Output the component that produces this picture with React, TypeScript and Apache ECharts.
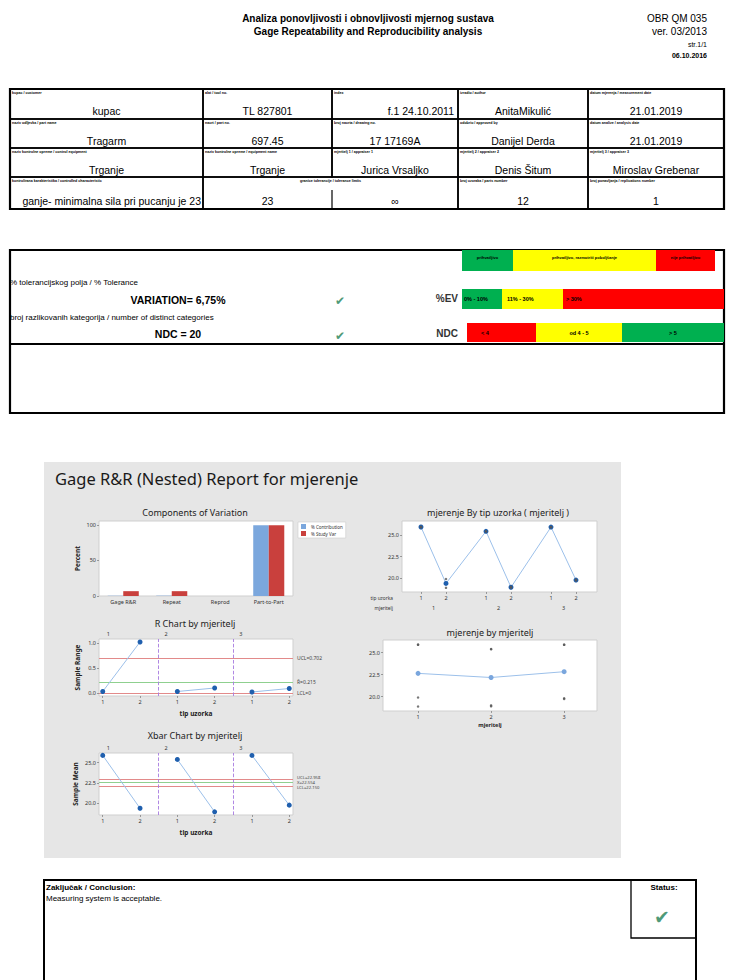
import React, { useEffect, useRef } from "react";
import * as echarts from "echarts";

// ---------------- data ----------------
const components = ["Gage R&R", "Repeat", "Reprod", "Part-to-Part"];
const pctContribution = [0.46, 0.46, 0.0, 99.54];
const pctStudyVar = [6.8, 6.8, 0.0, 99.77];
const legendNames = ["% Contribution", "% Study Var"];

const appraiserLabels = ["1", "2", "3"];
const sampleTypeLabels = ["1", "2"];
// measurements per appraiser: [sample type][part]
const appraiser1 = [[25.92, 25.89], [19.9, 18.88]];
const appraiser2 = [[25.42, 25.39], [19.0, 18.9]];
const appraiser3 = [[25.91, 25.89], [19.82, 19.73]];
const measurements = [appraiser1, appraiser2, appraiser3];

const pctTicks = [0, 50, 100];
const rTicks = [0, 0.5, 1.0];
const meanTicks = [20, 22.5, 25];

// header / tables
const titleLines = ["Analiza ponovljivosti i obnovljivosti mjernog sustava", "Gage Repeatability and Reproducibility analysis"];
const docInfo = ["OBR QM 035", "ver. 03/2013", "str.1/1", "06.10.2016"];
const t1Labels = [
  ["kupac / customer", "alat / tool no.", "index", "izradio / author", "datum mjerenja / measurement date"],
  ["naziv odljevka / part name", "nacrt / part no.", "broj nacrta / drawing no.", "odobrio / approved by", "datum analize / analysis date"],
  ["naziv kontrolne opreme / control equipment", "naziv kontrolne opreme / equipment name", "mjeritelj 1 / appraiser 1", "mjeritelj 2 / appraiser 2", "mjeritelj 3 / appraiser 3"],
];
const t1Values = [
  ["kupac", "TL 827801", "f.1 24.10.2011", "AnitaMikulić", "21.01.2019"],
  ["Tragarm", "697.45", "17 17169A", "Danijel Derda", "21.01.2019"],
  ["Trganje", "Trganje", "Jurica Vrsaljko", "Denis Šitum", "Miroslav Grebenar"],
];
const t1Row4Labels = ["kontrolirana karakteristika / controlled characteristic", "granice tolerancije / tolerance limits", "broj uzoraka / parts number", "broj ponavljanja / replications number"];
const t1Row4Values = ["ganje- minimalna sila pri pucanju je 23", "23", "∞", "12", "1"];
const ratingLegend = ["prihvatljivo", "prihvatljivo, razmotriti poboljšanje", "nije prihvatljivo"];
const evBands = ["0% - 10%", "11% - 30%", "> 30%"];
const ndcBands = ["< 4", "od 4 - 5", "> 5"];
const resultTexts = ["% tolerancijskog polja / % Tolerance", "VARIATION= 6,75%", "broj razlikovanih kategorija / number of distinct categories", "NDC = 20"];
const conclusionTexts = ["Zaključak / Conclusion:", "Measuring system is acceptable.", "Status:"];

// ---------------- helpers ----------------
const FONT = "'Liberation Sans', Arial, sans-serif";
const CFONT = "'Noto Sans', 'Open Sans', sans-serif";
const CHECK_FONT = "'DejaVu Sans', sans-serif";
const GREEN = "#00b050";
const YELLOW = "#ffff00";
const RED = "#ff0000";
const CHECK = "#4f9a78";

const mean = (a: number[]) => a.reduce((s, v) => s + v, 0) / a.length;
const range = (a: number[]) => Math.max(...a) - Math.min(...a);

function buildGraphics() {
  const G: any[] = [];
  const text = (x: number, y: number, t: string, o: any = {}) =>
    G.push({
      type: "text",
      x,
      y,
      z: o.z ?? 20,
      style: {
        text: t,
        fill: o.color ?? "#000",
        fontSize: o.size ?? 10,
        fontFamily: o.font ?? FONT,
        fontWeight: o.bold ? "bold" : "normal",
        align: o.align ?? "left",
        verticalAlign: "middle",
        textAlign: o.align ?? "left",
        textVerticalAlign: "middle",
      },
    });
  const rect = (x: number, y: number, w: number, h: number, o: any = {}) =>
    G.push({
      type: "rect",
      z: o.z ?? 5,
      shape: { x, y, width: w, height: h },
      style: { fill: o.fill ?? "none", stroke: o.stroke ?? null, lineWidth: o.lw ?? 1 },
    });
  const line = (x1: number, y1: number, x2: number, y2: number, lw = 1.5) =>
    G.push({ type: "line", z: 6, shape: { x1, y1, x2, y2 }, style: { stroke: "#000", lineWidth: lw } });

  // header
  text(368, 18, titleLines[0], { bold: true, size: 10, align: "center" });
  text(368, 31, titleLines[1], { bold: true, size: 10, align: "center" });
  text(707, 18, docInfo[0], { size: 10, align: "right" });
  text(707, 31, docInfo[1], { size: 10, align: "right" });
  text(707, 44, docInfo[2], { size: 7, align: "right" });
  text(707, 55, docInfo[3], { size: 7, bold: true, align: "right" });

  // table 1
  const rowsY = [89, 119, 148, 177, 209];
  const colsX = [10, 203, 332, 458, 588, 724];
  for (let r = 0; r < 3; r++) {
    for (let c = 0; c < 5; c++) {
      const x0 = colsX[c], x1 = colsX[c + 1], y0 = rowsY[r], y1 = rowsY[r + 1];
      rect(x0, y0, x1 - x0, y1 - y0, { stroke: "#000", lw: 1.5 });
      text(x0 + 2, y0 + 4, t1Labels[r][c], { size: 3.6, bold: true });
      if (r === 0 && c === 2) text(x1 - 4, y0 + 22, t1Values[r][c], { size: 10.5, align: "right" });
      else text((x0 + x1) / 2, y0 + 22, t1Values[r][c], { size: 10.5, align: "center" });
    }
  }
  const spans = [[0, 1], [1, 3], [3, 4], [4, 5]];
  spans.forEach(([a, b], i) => {
    const x0 = colsX[a], x1 = colsX[b], y0 = rowsY[3], y1 = rowsY[4];
    rect(x0, y0, x1 - x0, y1 - y0, { stroke: "#000", lw: 1.5 });
    if (i === 1) text((x0 + x1) / 2, y0 + 4, t1Row4Labels[i], { size: 3.6, bold: true, align: "center" });
    else text(x0 + 2, y0 + 4, t1Row4Labels[i], { size: 3.6, bold: true });
  });
  line(colsX[2], 190, colsX[2], rowsY[4], 1.2);
  text(colsX[1] - 2, rowsY[4] - 8, t1Row4Values[0], { size: 10.5, align: "right" });
  text((colsX[1] + colsX[2]) / 2, rowsY[4] - 8, t1Row4Values[1], { size: 10.5, align: "center" });
  text((colsX[2] + colsX[3]) / 2, rowsY[4] - 8, t1Row4Values[2], { size: 10.5, align: "center" });
  text((colsX[3] + colsX[4]) / 2, rowsY[4] - 8, t1Row4Values[3], { size: 10.5, align: "center" });
  text((colsX[4] + colsX[5]) / 2, rowsY[4] - 8, t1Row4Values[4], { size: 10.5, align: "center" });
  rect(colsX[0], rowsY[0], colsX[5] - colsX[0], rowsY[4] - rowsY[0], { stroke: "#000", lw: 2.2 });

  // table 2
  rect(10, 250, 714, 163, { stroke: "#000", lw: 2.2 });
  line(10, 344, 724, 344, 2);
  rect(462, 250, 51, 21, { fill: GREEN });
  rect(513, 250, 143, 21, { fill: YELLOW });
  rect(656, 250, 59, 21, { fill: RED });
  text(487.5, 257, ratingLegend[0], { size: 4, bold: true, align: "center" });
  text(584.5, 257, ratingLegend[1], { size: 4, bold: true, align: "center" });
  text(685.5, 257, ratingLegend[2], { size: 4, bold: true, align: "center" });

  text(458, 298, "%EV", { size: 10, bold: true, color: "#333", align: "right" });
  rect(462, 289, 40, 20, { fill: GREEN });
  rect(502, 289, 61, 20, { fill: YELLOW });
  rect(563, 289, 161, 20, { fill: RED });
  text(464, 299, evBands[0], { size: 5.5, bold: true });
  text(507, 299, evBands[1], { size: 5.5, bold: true });
  text(566, 299, evBands[2], { size: 5.5, bold: true });

  text(458, 333, "NDC", { size: 10, bold: true, color: "#333", align: "right" });
  rect(467, 323, 69, 19, { fill: RED });
  rect(536, 323, 86, 19, { fill: YELLOW });
  rect(622, 323, 102, 19, { fill: GREEN });
  text(485, 333, ndcBands[0], { size: 5.5, bold: true, align: "center" });
  text(579, 333, ndcBands[1], { size: 5.5, bold: true, align: "center" });
  text(673, 333, ndcBands[2], { size: 5.5, bold: true, align: "center" });

  text(10, 282, resultTexts[0], { size: 8 });
  text(178, 300, resultTexts[1], { size: 10.5, bold: true, align: "center" });
  text(10, 317, resultTexts[2], { size: 8 });
  text(178, 334, resultTexts[3], { size: 10.5, bold: true, align: "center" });
  text(340, 301, "✔", { size: 12, color: CHECK, font: CHECK_FONT, align: "center" });
  text(340, 336, "✔", { size: 12, color: CHECK, font: CHECK_FONT, align: "center" });

  // Minitab panel
  rect(44, 462, 577, 396, { fill: "#e6e6e6", z: -100 });
  text(55, 478, "Gage R&R (Nested) Report for mjerenje", { size: 16.5, font: CFONT, color: "#1a1a1a" });
  text(195, 512, "Components of Variation", { size: 9, font: CFONT, color: "#222", align: "center" });
  text(195, 623, "R Chart by mjeritelj", { size: 9, font: CFONT, color: "#222", align: "center" });
  text(195, 735, "Xbar Chart by mjeritelj", { size: 9, font: CFONT, color: "#222", align: "center" });
  text(498, 512, "mjerenje By tip uzorka ( mjeritelj )", { size: 9, font: CFONT, color: "#222", align: "center" });
  text(490, 632, "mjerenje by mjeritelj", { size: 9, font: CFONT, color: "#222", align: "center" });
  text(393, 598, "tip uzorka", { size: 4.8, font: CFONT, color: "#333", align: "right" });
  text(393, 608, "mjeritelj", { size: 4.8, font: CFONT, color: "#333", align: "right" });

  // conclusion
  G.push({
    type: "polyline",
    z: 6,
    shape: { points: [[44, 990], [44, 880], [696, 880], [696, 990]] },
    style: { stroke: "#000", lineWidth: 2, fill: "none" },
  });
  G.push({
    type: "polyline",
    z: 6,
    shape: { points: [[631, 880], [631, 938], [696, 938]] },
    style: { stroke: "#000", lineWidth: 1.3, fill: "none" },
  });
  text(46, 887, conclusionTexts[0], { size: 8, bold: true });
  text(46, 898, conclusionTexts[1], { size: 8 });
  text(664, 887, conclusionTexts[2], { size: 8, bold: true, align: "center" });
  text(662, 917, "✔", { size: 19, color: CHECK, font: CHECK_FONT, align: "center" });
  return G;
}

function buildOption() {
  const cellMeans = measurements.map((g) => g.map((c) => mean(c)));
  const cellRanges = measurements.map((g) => g.map((c) => range(c)));
  const rbar = mean(cellRanges.flat());
  const xbarbar = mean(cellMeans.flat());
  const A2 = 1.88, D4 = 3.267;
  const uclR = D4 * rbar;
  const uclX = xbarbar + A2 * rbar;
  const lclX = xbarbar - A2 * rbar;

  const axisLabel = { fontSize: 5.5, color: "#333", fontFamily: CFONT, margin: 3 };
  const tick = { show: true, length: 2, lineStyle: { color: "#666", width: 0.6 } };
  const noLine = { show: false, onZero: false };
  const gridBase = { show: true, backgroundColor: "#ffffff", borderColor: "#cfcfcf", borderWidth: 1 };
  const nameStyle = { fontSize: 6.5, color: "#222", fontFamily: CFONT, fontWeight: "bold" as const };

  const typeIdx = (v: number) => sampleTypeLabels[Math.round(v) % 2];
  const rPositions = measurements.flatMap((g, gi) => g.map((_, s) => gi * 2 + s));
  const groupLabelPos = appraiserLabels.map((_, gi) => (gi === 0 ? 0.15 : gi * 2 - 0.5 + 0.2));
  const groupOfPos = (v: number) => appraiserLabels[Math.min(2, Math.floor((v + 0.5) / 2))];
  const trPos = (gi: number, s: number) => gi * 2.6 + s;
  const trPositions = measurements.flatMap((g, gi) => g.map((_, s) => trPos(gi, s)));
  const trGroupCenters = appraiserLabels.map((_, gi) => trPos(gi, 0.5));
  const appraiserPos = appraiserLabels.map((_, gi) => gi + 1);

  const valAxis = (gridIndex: number, min: number, max: number, custom: number[], fmt: (v: number) => string, extra: any = {}) => ({
    type: "value",
    gridIndex,
    min,
    max,
    splitLine: { show: false },
    axisLine: noLine,
    axisTick: { ...tick, customValues: custom },
    axisLabel: { ...axisLabel, customValues: custom, formatter: fmt },
    ...extra,
  });

  const groupLabelAxis = (gridIndex: number) => ({
    type: "value",
    gridIndex,
    position: "top",
    min: -0.1,
    max: 5.1,
    splitLine: { show: false },
    axisLine: noLine,
    axisTick: { show: false },
    axisLabel: { ...axisLabel, margin: 2, customValues: groupLabelPos, formatter: (v: number) => groupOfPos(v + 0.4) },
  });

  const lineColor = "#9cc0ea";
  const dotColor = "#1f5fae";
  const dividers = [1.5, 3.5].map((v) => ({ xAxis: v, lineStyle: { color: "#a77be0", type: "dashed", width: 0.9 }, label: { show: false } }));
  const mlLabel = { show: true, position: "end", fontSize: 5, color: "#444", fontFamily: CFONT, distance: 4 };

  const rSeries = measurements.map((_, gi) => ({
    type: "line",
    xAxisIndex: 1,
    yAxisIndex: 1,
    data: cellRanges[gi].map((r, s) => [gi * 2 + s, r]),
    symbol: "circle",
    symbolSize: 5,
    lineStyle: { color: lineColor, width: 1 },
    itemStyle: { color: dotColor },
    z: 5,
    markLine:
      gi === 0
        ? {
            silent: true,
            symbol: ["none", "none"],
            label: mlLabel,
            data: [
              { yAxis: uclR, lineStyle: { color: "#e28a8a", type: "solid", width: 1 }, label: { ...mlLabel, formatter: `UCL=${uclR.toFixed(3)}` } },
              { yAxis: rbar, lineStyle: { color: "#8fd08f", type: "solid", width: 1 }, label: { ...mlLabel, formatter: `R\u0304=${rbar.toFixed(3)}` } },
              { yAxis: 0, lineStyle: { color: "#e28a8a", type: "solid", width: 1 }, label: { ...mlLabel, formatter: "LCL=0" } },
              ...dividers,
            ],
          }
        : undefined,
  }));

  const xSeries = measurements.map((_, gi) => ({
    type: "line",
    xAxisIndex: 3,
    yAxisIndex: 2,
    data: cellMeans[gi].map((m, s) => [gi * 2 + s, m]),
    symbol: "circle",
    symbolSize: 5,
    lineStyle: { color: lineColor, width: 1 },
    itemStyle: { color: dotColor },
    z: 5,
    markLine:
      gi === 0
        ? {
            silent: true,
            symbol: ["none", "none"],
            label: mlLabel,
            data: [
              { yAxis: uclX, lineStyle: { color: "#e28a8a", type: "solid", width: 1 }, label: { ...mlLabel, fontSize: 4.2, formatter: `UCL=${uclX.toFixed(3)}`, offset: [0, -2] } },
              { yAxis: xbarbar, lineStyle: { color: "#8fd08f", type: "solid", width: 1 }, label: { ...mlLabel, fontSize: 4.2, formatter: `X\u033F=${xbarbar.toFixed(3)}` } },
              { yAxis: lclX, lineStyle: { color: "#e28a8a", type: "solid", width: 1 }, label: { ...mlLabel, fontSize: 4.2, formatter: `LCL=${lclX.toFixed(3)}`, offset: [0, 2] } },
              ...dividers,
            ],
          }
        : undefined,
  }));

  const trMeans = measurements.flatMap((g, gi) => g.map((c, s) => [trPos(gi, s), mean(c)]));
  const trPoints = measurements.flatMap((g, gi) => g.flatMap((c, s) => c.map((v) => [trPos(gi, s), v])));
  const brPoints = measurements.flatMap((g, gi) => g.flat().map((v) => [gi + 1, v]));
  const brMeans = measurements.map((g, gi) => [gi + 1, mean(g.flat())]);

  return {
    animation: false,
    backgroundColor: "#ffffff",
    textStyle: { fontFamily: CFONT },
    legend: {
      data: legendNames,
      left: 298,
      top: 522,
      orient: "vertical",
      itemWidth: 5,
      itemHeight: 5,
      itemGap: 2,
      icon: "rect",
      padding: [2, 3],
      backgroundColor: "#ffffff",
      borderColor: "#cccccc",
      borderWidth: 0.6,
      textStyle: { fontSize: 4.5, color: "#333", fontFamily: CFONT },
    },
    grid: [
      { ...gridBase, left: 99, top: 521, width: 194, height: 75 },
      { ...gridBase, left: 99, top: 639, width: 194, height: 57 },
      { ...gridBase, left: 99, top: 753, width: 194, height: 62 },
      { ...gridBase, left: 402, top: 521, width: 195, height: 71 },
      { ...gridBase, left: 383, top: 640, width: 214, height: 71 },
    ],
    xAxis: [
      {
        type: "category",
        gridIndex: 0,
        data: components,
        axisLine: noLine,
        axisTick: { show: false },
        axisLabel: { ...axisLabel, interval: 0 },
      },
      valAxis(1, -0.1, 5.1, rPositions, typeIdx, { name: "tip uzorka", nameLocation: "middle", nameGap: 14, nameTextStyle: nameStyle }),
      groupLabelAxis(1),
      valAxis(2, -0.1, 5.1, rPositions, typeIdx, { name: "tip uzorka", nameLocation: "middle", nameGap: 14, nameTextStyle: nameStyle }),
      groupLabelAxis(2),
      valAxis(3, -0.76, 7.04, trPositions, (v: number) => sampleTypeLabels[Math.round(((v % 2.6) + 2.6) % 2.6)]),
      valAxis(4, 0.52, 3.45, appraiserPos, (v: number) => appraiserLabels[Math.round(v) - 1], {
        name: "mjeritelj",
        nameLocation: "middle",
        nameGap: 11,
        nameTextStyle: { ...nameStyle, fontSize: 5.5 },
      }),
      {
        type: "value",
        gridIndex: 3,
        position: "bottom",
        offset: 10,
        min: -0.76,
        max: 7.04,
        splitLine: { show: false },
        axisLine: noLine,
        axisTick: { show: false },
        axisLabel: { ...axisLabel, margin: 3, customValues: trGroupCenters, formatter: (v: number) => appraiserLabels[Math.round((v - 0.5) / 2.6)] },
      },
    ],
    yAxis: [
      valAxis(0, 0, 105.6, pctTicks, (v: number) => String(v), { name: "Percent", nameLocation: "middle", nameGap: 18, nameTextStyle: nameStyle }),
      valAxis(1, -0.06, 1.08, rTicks, (v: number) => v.toFixed(1), { name: "Sample Range", nameLocation: "middle", nameGap: 18, nameTextStyle: nameStyle }),
      valAxis(2, 18.56, 26.2, meanTicks, (v: number) => v.toFixed(1), { name: "Sample Mean", nameLocation: "middle", nameGap: 20, nameTextStyle: nameStyle }),
      valAxis(3, 18.4, 26.6, meanTicks, (v: number) => v.toFixed(1)),
      valAxis(4, 18.37, 26.44, meanTicks, (v: number) => v.toFixed(1)),
    ],
    graphic: { elements: buildGraphics() },
    series: [
      {
        name: legendNames[0],
        type: "bar",
        xAxisIndex: 0,
        yAxisIndex: 0,
        data: pctContribution,
        barGap: "0%",
        barCategoryGap: "36%",
        itemStyle: { color: "#7ba7dd" },
      },
      {
        name: legendNames[1],
        type: "bar",
        xAxisIndex: 0,
        yAxisIndex: 0,
        data: pctStudyVar,
        barGap: "0%",
        barCategoryGap: "36%",
        itemStyle: { color: "#c9403d" },
      },
      ...rSeries,
      ...xSeries,
      {
        type: "line",
        xAxisIndex: 5,
        yAxisIndex: 3,
        data: trMeans,
        symbol: "circle",
        symbolSize: 5,
        lineStyle: { color: lineColor, width: 1 },
        itemStyle: { color: dotColor },
        z: 4,
      },
      {
        type: "scatter",
        xAxisIndex: 5,
        yAxisIndex: 3,
        data: trPoints,
        symbolSize: 2.5,
        itemStyle: { color: "#555" },
        z: 6,
      },
      {
        type: "line",
        xAxisIndex: 6,
        yAxisIndex: 4,
        data: brMeans,
        symbol: "circle",
        symbolSize: 5,
        lineStyle: { color: lineColor, width: 1 },
        itemStyle: { color: "#7aa6dd" },
        z: 4,
      },
      {
        type: "scatter",
        xAxisIndex: 6,
        yAxisIndex: 4,
        data: brPoints,
        symbolSize: 2.5,
        itemStyle: { color: "#555" },
        z: 6,
      },
    ],
  };
}

export default function App() {
  const ref = useRef<HTMLDivElement>(null);
  useEffect(() => {
    if (!ref.current) return;
    const chart = echarts.init(ref.current, undefined, { renderer: "svg", width: 732, height: 980 });
    chart.setOption(buildOption() as any);
    return () => chart.dispose();
  }, []);
  return (
    <div
      ref={ref}
      style={{ position: "absolute", left: 0, top: 0, width: 732, height: 980, background: "#fff" }}
    />
  );
}
